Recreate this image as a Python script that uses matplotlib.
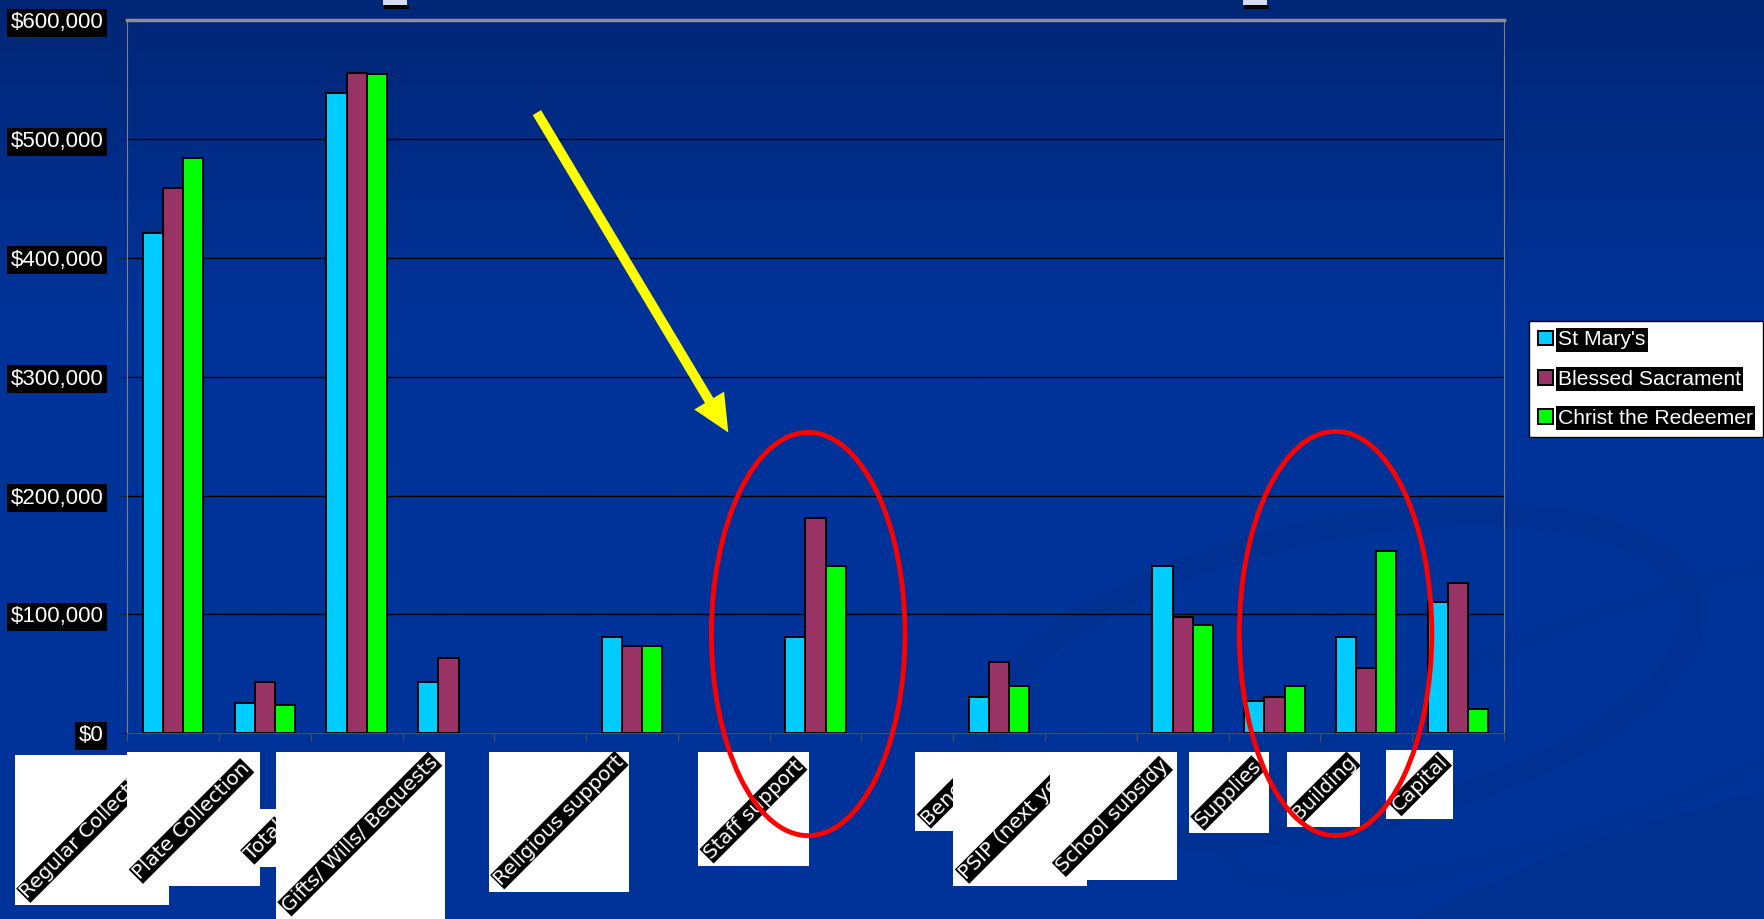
import numpy as np
import matplotlib
matplotlib.use("Agg")
import matplotlib.pyplot as plt
from matplotlib.patches import Rectangle, Ellipse, FancyArrowPatch

plt.rcParams['font.family'] = ['Liberation Sans', 'DejaVu Sans']

# données
categories = ["Regular Collection", "Plate Collection", "Total", "Gifts/ Wills/ Bequests", "",
              "Religious support", "", "Staff support", "", "PSIP (next year)", "",
              "School subsidy", "Supplies", "Building", "Capital"]
st_marys = [421000, 25500, 539000, 42700, None, 80600, None, 80600, None, 30300, None,
            141000, 27000, 80700, 110500]
blessed_sacrament = [458500, 42700, 556000, 63500, None, 73000, None, 181000, None, 59700, None,
                     97700, 30700, 55100, 126000]
christ_redeemer = [484000, 23700, 555000, None, None, 73000, None, 140300, None, 39800, None,
                   90900, 39500, 153300, 20200]
series_names = ["St Mary's", "Blessed Sacrament", "Christ the Redeemer"]
yticks = [0, 100000, 200000, 300000, 400000, 500000, 600000]

# étiquettes collées sous l'axe (boîtes blanches)
pasted_labels = ["Regular Collection", "Plate Collection", "Total", "Gifts/ Wills/ Bequests",
                 "Religious support", "Staff support", "Benefits", "PSIP (next year)",
                 "School subsidy", "Supplies", "Building", "Capital"]

W, H = 1568.0, 816.0   # repère de mesure
def fx(x): return x / W
def fy(y): return 1 - y / H

fig = plt.figure(figsize=(17.65, 9.19), dpi=100)

# fond dégradé bleu + motif discret
bg = fig.add_axes([0, 0, 1, 1], zorder=-10)
grad = np.linspace(0, 1, 400)
top = np.array([0x00, 0x26, 0x76]) / 255
mid = np.array([0x00, 0x33, 0x99]) / 255
t = np.clip(grad / 0.35, 0, 1)[:, None]
img = (top * (1 - t) + mid * t)[:, None, :]
bg.imshow(img, aspect='auto', extent=[0, W, 0, H], origin='upper')
bg.add_patch(Ellipse((1190, H - 600), 640, 260, angle=12, fill=False,
                     edgecolor='#002f8c', lw=18, alpha=0.5))
bg.add_patch(Ellipse((1420, H - 640), 700, 180, angle=20, fill=False,
                     edgecolor='#00308e', lw=14, alpha=0.4))
bg.add_patch(Ellipse((1500, -60), 900, 300, angle=18, facecolor='#00308c',
                     edgecolor='none', alpha=0.6))
bg.set_xlim(0, W)
bg.set_ylim(0, H)
bg.axis('off')

ax = fig.add_axes([fx(113), fy(651), 1223 / W, 633 / H])
ax.set_facecolor('none')
x = np.arange(len(categories))
w = 0.22
colors = ['#00CCFF', '#993366', '#00FF00']
handles = []
for i, (vals, c) in enumerate(zip([st_marys, blessed_sacrament, christ_redeemer], colors)):
    v = np.array([np.nan if a is None else a for a in vals], dtype=float)
    m = ~np.isnan(v)
    b = ax.bar(x[m] + (i - 1) * w, v[m], w, color=c, edgecolor='black', lw=1.4, zorder=3)
    handles.append(b)

ax.set_xlim(-0.5, len(categories) - 0.5)
ax.set_ylim(0, 600000)
ax.set_yticks(yticks)
ax.set_yticklabels(["${:,.0f}".format(v) for v in yticks])
for lab in ax.get_yticklabels():
    lab.set_color('white')
    lab.set_fontsize(16)
    lab.set_bbox(dict(facecolor='black', edgecolor='none', pad=2.5))
ax.tick_params(axis='y', length=5, pad=12, color='#202020')
ax.set_xticks(np.arange(-0.5, len(categories), 1))
ax.set_xticklabels([])
ax.tick_params(axis='x', length=6, color='#505050')
ax.yaxis.grid(True, color='black', lw=1)
ax.set_axisbelow(True)
ax.spines['left'].set_color('#808080')
ax.spines['right'].set_color('#808080')
ax.spines['top'].set_color('#909090')
ax.spines['top'].set_linewidth(2.5)
ax.spines['bottom'].set_color('#505050')

leg = fig.legend(handles, series_names, loc='upper left', bbox_to_anchor=(fx(1358), fy(285)),
                 fontsize=15.2, frameon=True, fancybox=False, edgecolor='black',
                 facecolor='white', framealpha=1, handlelength=0.7, handleheight=0.7,
                 labelspacing=0.95, handletextpad=0.25, borderpad=0.45, borderaxespad=0)
leg.get_frame().set_linewidth(1)
for tx in leg.get_texts():
    tx.set_color('white')
    tx.set_bbox(dict(facecolor='black', edgecolor='none', pad=1.5))

# boîtes blanches des étiquettes (x0, haut, x1, bas)
boxes = [(13, 670, 150, 804), (113, 668, 231, 787), (212, 718, 245, 770),
         (245, 668, 395, 816), (434, 668, 559, 792), (620, 668, 719, 769),
         (813, 668, 847, 738), (847, 668, 966, 787), (933, 668, 1046, 781),
         (1056, 668, 1127, 740), (1143, 668, 1208, 734), (1231, 666, 1291, 727)]
for k, (lab, (x0, y0, x1, y1)) in enumerate(zip(pasted_labels, boxes)):
    r = Rectangle((fx(x0), fy(y1)), (x1 - x0) / W, (y1 - y0) / H, transform=fig.transFigure,
                  facecolor='white', edgecolor='none', zorder=5 + 2 * k)
    fig.add_artist(r)
    t = fig.text(fx(x0 + 14), fy(y1 - 3), lab, rotation=45, rotation_mode='anchor',
                 ha='left', va='bottom', fontsize=14.5, family='DejaVu Sans', color='white',
                 zorder=6 + 2 * k, bbox=dict(facecolor='black', edgecolor='none', pad=0.5))
    t.set_clip_path(r)

# petites marques en haut
for xm in [340, 1104]:
    fig.add_artist(Rectangle((fx(xm), fy(4)), 22 / W, 4 / H, transform=fig.transFigure,
                             facecolor='#d8dcf0', edgecolor='none', zorder=50))
    fig.add_artist(Rectangle((fx(xm + 1), fy(8)), 22 / W, 4 / H, transform=fig.transFigure,
                             facecolor='black', edgecolor='none', zorder=50))

# flèche jaune
arr = FancyArrowPatch((fx(477), fy(100)), (fx(647), fy(384)), transform=fig.transFigure,
                      arrowstyle='-|>,head_length=0.75,head_width=0.35', mutation_scale=20,
                      color='#FFFF00', lw=7, shrinkA=0, shrinkB=0, zorder=100,
                      joinstyle='miter', capstyle='butt')
fig.add_artist(arr)

# ellipses rouges
for cx, cy, ew, eh in [(718, 563, 172, 358), (1186.5, 562.5, 171, 359)]:
    fig.add_artist(Ellipse((fx(cx), fy(cy)), ew / W, eh / H, transform=fig.transFigure,
                           fill=False, edgecolor='#FF0000', lw=3.5, zorder=100))

fig.savefig("out.png", dpi=100)
